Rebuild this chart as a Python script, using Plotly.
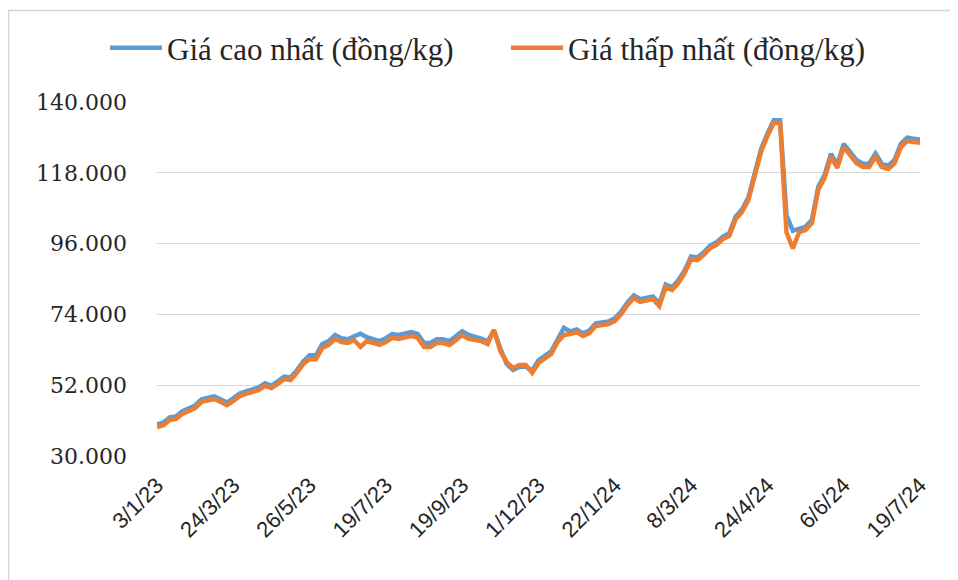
import plotly.graph_objects as go

# Tick labels on the category axis (every 12th point)
tick_labels = ["3/1/23", "24/3/23", "26/5/23", "19/7/23", "19/9/23", "1/12/23",
               "22/1/24", "8/3/24", "24/4/24", "6/6/24", "19/7/24"]

# Highest price (đồng/kg)
gia_cao = [39800, 40400, 42000, 42300, 43900, 44800, 45700, 47600, 47900, 48500,
           47600, 46600, 47900, 49400, 50100, 50700, 51300, 52600, 51900, 53200,
           54700, 54400, 56600, 59400, 61300, 61300, 64800, 65700, 67600, 66600,
           66300, 67200, 68000, 66900, 66300, 65700, 66600, 67900, 67600, 68200,
           68500, 67900, 65100, 65100, 66300, 66300, 65700, 67200, 68800, 67600,
           67200, 66500, 65600, 69000, 63400, 58600, 56700, 57700, 57700, 56600,
           59700, 60900, 62500, 66200, 69800, 68700, 69300, 68100, 69000, 71200,
           71500, 71800, 72800, 74900, 77700, 79900, 78700, 79000, 79600, 77400,
           83300, 82400, 84600, 87700, 92000, 91700, 93300, 95400, 96400, 98200,
           99200, 104400, 106600, 110300, 118100, 125300, 130200, 134300, 134300, 104800,
           100000, 100600, 101200, 103400, 113700, 117400, 123900, 120500, 127000, 124500,
           122000, 120800, 120800, 124000, 120800, 120200, 122000, 127000, 128900, 128600,
           128300]

# Lowest price (đồng/kg)
gia_thap = [39000, 39600, 41200, 41500, 43100, 44000, 44900, 46800, 47100, 47700,
            46800, 45800, 47100, 48600, 49300, 49900, 50500, 51800, 51100, 52400,
            53900, 53600, 55800, 58600, 60100, 60100, 63600, 64500, 66400, 65400,
            65100, 66000, 63900, 65700, 65100, 64500, 65400, 66700, 66400, 67000,
            67300, 66700, 63900, 63900, 65100, 65100, 64500, 66000, 67600, 66400,
            66000, 65700, 64800, 69200, 62600, 59200, 57300, 58300, 58300, 55800,
            58900, 60100, 61700, 65400, 67600, 67900, 68500, 67300, 68200, 70400,
            70700, 71000, 72000, 74100, 76900, 79100, 77900, 78200, 78800, 76600,
            82500, 81600, 83800, 86900, 91200, 90900, 92500, 94600, 95600, 97400,
            98400, 103600, 105800, 109500, 117300, 124500, 129400, 133500, 133500, 99500,
            94500, 99600, 100200, 102400, 112700, 116400, 122900, 119500, 126000, 123500,
            121000, 119800, 119800, 123000, 119800, 119200, 121000, 126000, 127900, 127600,
            127300]

x_idx = list(range(len(gia_cao)))
tick_step = (len(gia_cao) - 1) // (len(tick_labels) - 1)
tick_vals = [i * tick_step for i in range(len(tick_labels))]

# The page body adds an 8px offset; figure coordinates below compensate for it.
OFF = 8
W, H = 958, 580
L, R, T, B = 157 - OFF, 38 + OFF, 102 - OFF, 124 + OFF
pw, ph = W - L - R, H - T - B

fig = go.Figure()
fig.add_trace(go.Scatter(x=x_idx, y=gia_cao, mode="lines",
                         name="Giá cao nhất (đồng/kg)",
                         line=dict(color="#5B9BD5", width=4.5)))
fig.add_trace(go.Scatter(x=x_idx, y=gia_thap, mode="lines",
                         name="Giá thấp nhất (đồng/kg)",
                         line=dict(color="#ED7D31", width=4.5)))

def px_x(p):
    return (p - OFF - L) / pw

def px_y(p):
    return (H - B - (p - OFF)) / ph

# outer chart frame (left and top edges visible)
fig.add_shape(type="line", xref="paper", yref="paper",
              x0=px_x(8.5), x1=px_x(970), y0=px_y(10.5), y1=px_y(10.5),
              line=dict(color="#d4d4d4", width=1.5))
fig.add_shape(type="line", xref="paper", yref="paper",
              x0=px_x(8.5), x1=px_x(8.5), y0=px_y(10.5), y1=px_y(600),
              line=dict(color="#d4d4d4", width=1.5))

fig.update_layout(
    width=W, height=H,
    margin=dict(l=L, r=R, t=T, b=B, autoexpand=False),
    paper_bgcolor="white", plot_bgcolor="white",
    separators=",.",
    showlegend=True,
    legend=dict(orientation="h", xref="paper", yref="paper",
                x=px_x(105), xanchor="left", y=px_y(48), yanchor="middle",
                font=dict(family="Liberation Serif", size=31, color="#262626"),
                entrywidth=334, itemwidth=52, bgcolor="rgba(0,0,0,0)"),
    xaxis=dict(range=[0, len(gia_cao) - 1], tickvals=tick_vals, ticktext=tick_labels,
               tickangle=-45, showgrid=False, zeroline=False, showline=False,
               ticks="", ticklabelstandoff=11,
               tickfont=dict(family="Liberation Sans", size=22, color="#262626")),
    yaxis=dict(range=[30000, 140000], dtick=22000, tick0=30000, tickformat=",d",
               showgrid=True, gridcolor="#d9d9d9", gridwidth=1.3, zeroline=False,
               showline=False, ticks="", ticklabelstandoff=29,
               tickfont=dict(family="DejaVu Serif", size=22, color="#262626")),
)

fig.write_html("out.html")
